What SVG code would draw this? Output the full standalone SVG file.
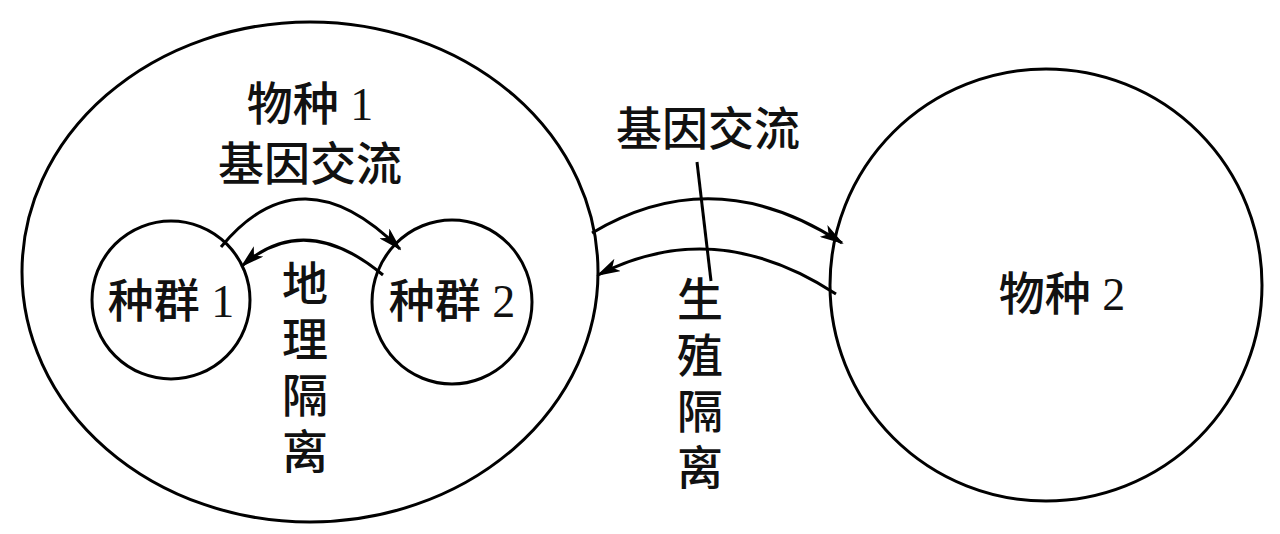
<svg xmlns="http://www.w3.org/2000/svg" width="1280" height="534" viewBox="0 0 1280 534">
<style>
.s{fill:none;stroke:#000;stroke-width:3}
.t{font-family:"Liberation Serif","Noto Sans CJK SC",serif;font-size:46px;font-weight:500;fill:#111;text-anchor:middle}
</style>
<defs><marker id="a" viewBox="0 0 24 14" refX="22" refY="7" markerWidth="24" markerHeight="14" markerUnits="userSpaceOnUse" orient="auto"><path d="M0,0 L24,7 L0,14 L6,7 Z" fill="#000"/></marker></defs>
<rect width="1280" height="534" fill="#fff"/>
<g id="species1"><ellipse class="s" cx="310" cy="272" rx="288" ry="250"/><text class="t" x="310" y="120">物种 1</text><text class="t" x="310" y="180">基因交流</text></g>
<g id="pop1"><circle class="s" cx="171" cy="300" r="79"/><text class="t" x="171" y="317">种群 1</text></g>
<g id="pop2"><ellipse class="s" cx="452" cy="302" rx="80" ry="82"/><text class="t" x="452" y="317">种群 2</text></g>
<g id="species2"><circle class="s" cx="1046" cy="285" r="216"/><text class="t" x="1062" y="310">物种 2</text></g>
<g id="label-geo"><text class="t" x="305" y="300">地</text><text class="t" x="305" y="356">理</text><text class="t" x="305" y="412">隔</text><text class="t" x="305" y="468">离</text></g>
<g id="label-gene"><text class="t" x="708" y="145">基因交流</text></g>
<g id="label-repro"><text class="t" x="700" y="316">生</text><text class="t" x="700" y="372">殖</text><text class="t" x="700" y="428">隔</text><text class="t" x="700" y="484">离</text></g>
<g id="connectors">
<path class="s" d="M221,247 Q301,150 400,249" marker-end="url(#a)"/>
<path class="s" d="M383,275 Q305,210 242,266" marker-end="url(#a)"/>
<path class="s" d="M592,233 Q715,160 842,243" marker-end="url(#a)"/>
<path class="s" d="M836,294 Q715,215 598,275" marker-end="url(#a)"/>
<path class="s" d="M697,162 L711,281" stroke-width="2.5"/>
</g>
</svg>
